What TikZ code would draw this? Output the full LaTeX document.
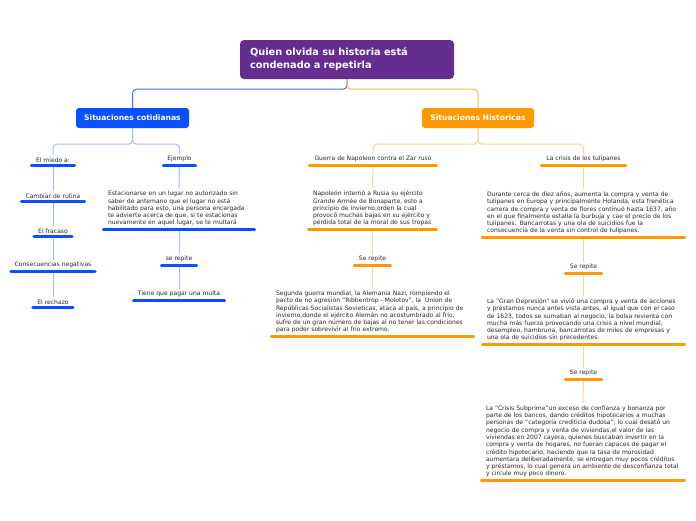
\documentclass[tikz,border=0pt]{standalone}
\usepackage{fontspec}
\setmainfont{DejaVu Sans}
\definecolor{purp}{HTML}{662D91}
\definecolor{bluebox}{HTML}{0A50FF}
\definecolor{orgbox}{HTML}{FF9900}
\definecolor{blueL}{HTML}{3D6FF5}
\definecolor{orgL}{HTML}{FFB84D}
\definecolor{blueLL}{HTML}{A3BFFA}
\definecolor{orgLL}{HTML}{FFD699}
\definecolor{txt}{HTML}{2A2A2A}
\tikzset{
  lbl/.style={font=\fontsize{6.05}{7.3}\selectfont, text=txt, inner xsep=0pt, inner ysep=2.6pt, anchor=south, align=center, minimum width=#1},
  blk/.style={font=\fontsize{6.05}{7.3}\selectfont, text=txt, inner xsep=6pt, inner ysep=2.6pt, anchor=south, align=left, text width=#1-12pt},
  mainbox/.style={rounded corners=3pt, text=white, font=\bfseries\fontsize{7.6}{8}\selectfont, minimum height=20pt, inner sep=0pt},
  ulb/.style={line width=3pt, line cap=round, bluebox, shorten <=1.5pt, shorten >=1.5pt},
  ulo/.style={line width=3pt, line cap=round, orgbox, shorten <=1.5pt, shorten >=1.5pt},
  cb/.style={blueLL, line width=1pt},
  co/.style={orgLL, line width=1pt},
}
\begin{document}
\begin{tikzpicture}[x=1pt,y=-1pt]
\useasboundingbox[fill=white] (0,0) rectangle (696,520);
% root
\node[rounded corners=4pt, fill=purp, text=white, font=\bfseries\fontsize{9.8}{13}\selectfont, minimum width=214pt, minimum height=39pt, text width=194pt, inner xsep=10pt, align=left] (root) at (347,59.5) {Quien olvida su historia está\\condenado a repetirla};
\node[mainbox, fill=bluebox, minimum width=113pt] (cot) at (132.5,118) {Situaciones cotidianas};
\node[mainbox, fill=orgbox, minimum width=112pt] (his) at (478,118) {Situaciones Historicas};
\draw[blueL, line width=1pt, rounded corners=4pt] (root.south) -- ++(0,10) -| (cot.north);
\draw[orgL, line width=1pt, rounded corners=4pt] (root.south) -- ++(0,10) -| (his.north);

% left side
\node[lbl=46pt] (miedo) at (53,165) {El miedo a:};
\node[lbl=35pt] (ejem) at (179.5,165) {Ejemplo};
\node[lbl=66pt] (camb) at (53,201) {Cambiar de rutina};
\node[lbl=41pt] (frac) at (53,236) {El fracaso};
\node[lbl=87pt] (cons) at (53,271) {Consecuencias negativas};
\node[lbl=43pt] (rech) at (53,307) {El rechazo};
\node[blk=154pt] (esta) at (179,229) {Estacionarse en un lugar no autorizado sin\\saber de antemano que el lugar no está\\habilitado para esto, una persona encargada\\te advierte acerca de que, si te estacionas\\nuevamente en aquel lugar, se te multará};
\node[lbl=38pt] (rep1) at (179,265) {se repite};
\node[lbl=94pt] (mult) at (179,300) {Tiene que pagar una multa};

% right side
\node[lbl=130pt] (guer) at (373,165) {Guerra de Napoleon contra el Zar ruso};
\node[lbl=87pt] (tuli) at (583.5,165) {La crisis de los tulipanes};
\node[blk=131pt] (napo) at (372.5,229) {Napoleón internó a Rusia su ejército\\Grande Armée de Bonaparte, esto a\\principio de invierno,orden la cual\\provocó muchas bajas en su ejército y\\pérdida total de la moral de sus tropas};
\node[lbl=39pt] (rep2) at (372.5,265) {Se repite};
\node[blk=205pt] (segu) at (372.5,336) {Segunda guerra mundial, la Alemania Nazi, rompiendo el\\pacto de no agresión "Ribbentrop - Molotov", la \ Union de\\Repúblicas Socialistas Sovieticas, ataca al país, a principio de\\invierno,donde el ejército Alemán no acostumbrado al frío,\\sufre de un gran número de bajas al no tener las condiciones\\para poder sobrevivir al frío extremo.};
\node[blk=205pt] (dura) at (583.5,237) {Durante cerca de diez años, aumenta la compra y venta de\\tulipanes en Europa y principalmente Holanda, esta frenética\\carrera de compra y venta de flores continuó hasta 1637, año\\en el que finalmente estalla la burbuja y cae el precio de los\\tulipanes. Bancarrotas y una ola de suicidios fue la\\consecuencia de la venta sin control de tulipanes.};
\node[lbl=39pt] (rep3) at (583.5,273) {Se repite};
\node[blk=205pt] (gran) at (583.5,344) {La "Gran Depresión" se vivió una compra y venta de acciones\\y préstamos nunca antes vista antes, al igual que con el caso\\de 1623, todos se sumaban al negocio, la bolsa revienta con\\mucha más fuerza provocando una crisis a nivel mundial,\\desempleo, hambruna, bancarrotas de miles de empresas y\\una ola de suicidios sin precedentes.};
\node[lbl=39pt] (rep4) at (583.5,379) {Se repite};
\node[blk=206pt] (cris) at (583,480) {La “Crisis Subprime”un exceso de confianza y bonanza por\\parte de los bancos, dando créditos hipotecarios a muchas\\personas de “categoría crediticia dudosa”, lo cual desató un\\negocio de compra y venta de viviendas,el valor de las\\viviendas en 2007 cayera, quienes buscaban invertir en la\\compra y venta de hogares, no fueran capaces de pagar el\\crédito hipotecario, haciendo que la tasa de morosidad\\aumentara deliberadamente, se entregan muy pocos créditos\\y préstamos, lo cual genera un ambiente de desconfianza total\\y circule muy poco dinero.};

% branch connectors
\draw[cb, rounded corners=4pt] (cot.south) -- ++(0,16) -| (miedo.north);
\draw[cb, rounded corners=4pt] (cot.south) -- ++(0,16) -| (ejem.north);
\draw[co, rounded corners=4pt] (his.south) -- ++(0,16) -| (guer.north);
\draw[co, rounded corners=4pt] (his.south) -- ++(0,16) -| (tuli.north);

% chain connectors
\foreach \a/\b in {miedo/camb, camb/frac, frac/cons, cons/rech, ejem/esta, esta/rep1, rep1/mult}
  \draw[cb] (\a.south) -- (\b.north);
\foreach \a/\b in {guer/napo, napo/rep2, rep2/segu, tuli/dura, dura/rep3, rep3/gran, gran/rep4, rep4/cris}
  \draw[co] (\a.south) -- (\b.north);

% underlines
\foreach \n in {miedo, ejem, camb, frac, cons, rech, esta, rep1, mult}
  \draw[ulb] (\n.south west) -- (\n.south east);
\foreach \n in {guer, tuli, napo, rep2, segu, dura, rep3, gran, rep4, cris}
  \draw[ulo] (\n.south west) -- (\n.south east);
\end{tikzpicture}
\end{document}
